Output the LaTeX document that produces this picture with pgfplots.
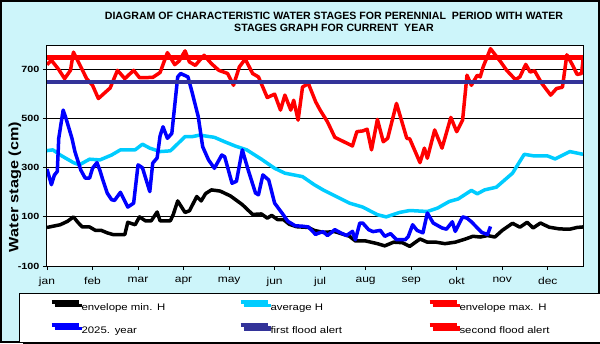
\documentclass[border=0pt]{standalone}
\usepackage{fontspec}
\setmainfont{Liberation Sans}
\newfontfamily\wide[FakeStretch=1.2]{Liberation Sans}
\usepackage{pgfplots}
\pgfplotsset{compat=1.18}
\usetikzlibrary{shadows}
\definecolor{bgcyan}{RGB}{205,245,250}
\definecolor{avgcyan}{RGB}{0,204,255}
\definecolor{alertblue}{RGB}{51,51,153}

\begin{document}
\begin{tikzpicture}
\useasboundingbox (-47pt,-77pt) rectangle (553pt,266pt);
\fill[bgcyan] (-47pt,-77pt) rectangle (553pt,266pt);
\draw[black, line width=2pt] (-46pt,-76pt) rectangle (552pt,265pt);
\begin{axis}[
    scale only axis, width=536pt, height=221pt,
    at={(0pt,0pt)}, anchor=south west,
    xmin=0, xmax=365, ymin=-100, ymax=800,
    axis background/.style={fill=white},
    axis line style={line width=1pt},
    xtick={0,31,62,93,124,155,186,217,248,279,310,341},
    xticklabels={jan,feb,mar,apr,may,jun,jul,aug,sep,okt,nov,dec},
    ytick={-100,100,300,500,700},
    yticklabels={-100,100,300,500,700},
    ymajorgrids, grid style={black, line width=0.8pt},
    tick pos=left, tick align=outside, major tick length=4pt,
    tick style={black, line width=0.8pt},
    x tick label style={font=\wide\fontsize{10}{11}\selectfont, yshift=-4pt},
    y tick label style={font=\wide\fontsize{9}{10}\selectfont\bfseries},
    ylabel={Water stage (cm)},
    ylabel style={at={(axis description cs:-0.0597,0.357)}, anchor=center,
        font=\wide\fontsize{13.5}{14}\selectfont\bfseries},
    title={DIAGRAM OF CHARACTERISTIC WATER STAGES FOR PERENNIAL\ \ PERIOD WITH WATER\\STAGES GRAPH FOR CURRENT\ \ YEAR},
    title style={at={(axis description cs:0.5354,1.077)}, anchor=center, align=center,
        font=\fontsize{10.6}{12}\selectfont\bfseries},
    every axis plot/.append style={line width=3.5pt, line join=round},
    legend columns=3,
    legend cell align=left,
    legend image code/.code={\draw[#1, line width=4pt] (0pt,6pt) -- (27pt,6pt);},
    legend style={
        at={(axis description cs:-0.0522,-0.1222)}, anchor=north west,
        draw=black, line width=1pt, fill=white,
        drop shadow={shadow xshift=3pt, shadow yshift=-3pt, fill=black, opacity=1},
        inner xsep=30pt, inner ysep=6.75pt,
        font=\wide\fontsize{9.5}{11}\selectfont,
        /tikz/row sep=10.5pt,
        /tikz/column sep=0pt,
        /tikz/every even column/.append style={column sep=0pt,
            nodes={text width=156pt, inner xsep=1pt, inner ysep=0pt, text height=7pt, text depth=2pt}},
        /tikz/column 6/.append style={nodes={text width=99pt}},
    },
]
% envelope min. H
\addplot[black] coordinates {
(0,57) (9,68) (14,82) (18,100) (21,78) (24,59) (29,59) (33,45) (37,45) (41,35)
(45,28) (53,28) (55,78) (60,68) (63,100) (67,84) (71,84) (75,120) (77,84) (84,84)
(86,110) (89,165) (94,118) (97,125) (102,183) (105,165) (108,195) (112,210) (118,205) (125,185)
(133,150) (140,110) (146,112) (150,95) (153,106) (157,89) (161,89) (165,70) (170,60) (178,57)
(182,45) (188,37) (196,40) (206,21) (210,2) (217,2) (225,-9) (230,-18) (236,-3) (242,-5)
(247,-20) (254,10) (259,-3) (265,-3) (271,-9) (278,-3) (285,10) (290,21) (295,18) (300,24)
(305,18) (310,45) (317,74) (322,58) (327,78) (331,55) (336,75) (342,58) (349,51) (356,50)
(361,57) (365,59)};
\addlegendentry{envelope min. H}
% average H
\addplot[avgcyan] coordinates {
(0,370) (4,373) (9,352) (18,321) (22,312) (29,335) (36,332) (44,352) (50,373) (60,373)
(65,396) (70,380) (77,366) (84,369) (87,386) (94,427) (99,427) (104,433) (114,424) (121,406)
(128,389) (136,373) (146,335) (155,298) (162,278) (174,264) (182,231) (188,210) (197,183) (206,156)
(215,140) (225,109) (231,100) (240,118) (247,126) (259,122) (266,136) (274,163) (280,173) (289,208)
(293,194) (298,210) (306,221) (317,278) (325,355) (332,348) (341,348) (346,336) (356,366) (365,355)};
\addlegendentry{average H}
% envelope max. H
\addplot[red] coordinates {
(0,720) (3,738) (8,700) (12,663) (16,697) (18,771) (23,711) (27,663) (31,636) (35,582)
(40,609) (43,625) (48,697) (53,663) (59,697) (63,667) (72,668) (77,688) (82,769) (87,720)
(90,735) (94,776) (97,731) (101,717) (104,738) (107,758) (112,724) (117,697) (123,684) (127,636)
(131,711) (135,743) (140,684) (144,670) (150,586) (155,600) (159,535) (162,596) (166,535) (168,575)
(171,494) (174,629) (178,643) (183,568) (186,535) (191,487) (196,424) (208,389) (211,447) (215,450)
(218,457) (221,373) (225,497) (229,406) (232,420) (238,562) (245,420) (247,418) (254,321) (257,380)
(259,339) (264,454) (269,380) (275,505) (279,447) (283,494) (286,677) (289,636) (293,677) (295,670)
(297,711) (302,785) (309,731) (313,697) (319,659) (322,670) (326,721) (329,690) (332,695) (337,643)
(343,596) (347,623) (351,628) (354,760) (358,717) (361,680) (364,684) (365,738)};
\addlegendentry{envelope max. H}
% 2025. year
\addplot[blue] coordinates {
(0,295) (3,231) (5,270) (7,285) (8,420) (11,535) (13,500) (17,420) (19,366) (23,291)
(26,258) (29,258) (31,298) (34,321) (36,290) (38,251) (41,197) (44,170) (46,167) (50,200)
(55,140) (59,156) (62,312) (65,300) (70,203) (72,319) (75,340) (77,430) (79,467) (82,420)
(85,440) (89,670) (91,684) (96,670) (99,603) (103,508) (106,386) (110,332) (114,298) (119,352)
(121,345) (126,237) (129,245) (133,373) (137,291) (142,197) (144,190) (147,271) (151,250) (155,156)
(160,116) (164,82) (169,64) (174,62) (178,59) (183,28) (184,32) (188,40) (191,24) (196,48)
(200,35) (204,24) (208,41) (210,7) (213,75) (215,75) (219,48) (222,40) (227,45) (230,21)
(234,32) (238,7) (244,7) (246,20) (249,68) (252,45) (256,35) (259,116) (263,75) (269,55)
(272,50) (276,80) (278,41) (283,100) (286,95) (289,80) (296,37) (300,28) (302,61)};
\addlegendentry{2025. year}
% first flood alert
\addplot[alertblue, line width=4.5pt] coordinates {(0,650) (365,650)};
\addlegendentry{first flood alert}
% second flood alert
\addplot[red, line width=4.5pt] coordinates {(0,750) (365,750)};
\addlegendentry{second flood alert}
\end{axis}
\end{tikzpicture}
\end{document}
